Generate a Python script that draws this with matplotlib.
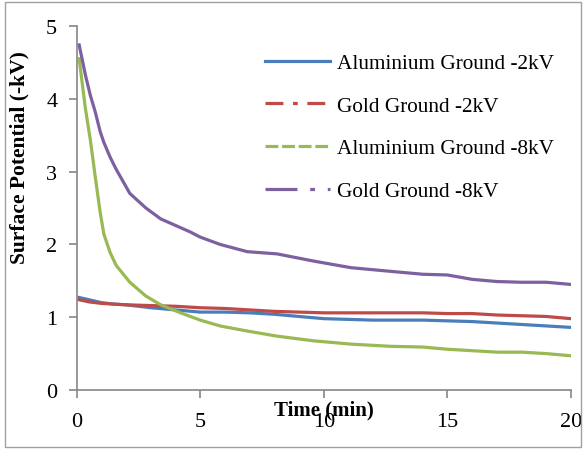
import numpy as np
import matplotlib.pyplot as plt
from matplotlib.lines import Line2D
from matplotlib.patches import Rectangle

plt.rcParams['font.family'] = ['Liberation Serif', 'DejaVu Serif']

# time axes (min) and measured surface potential (-kV)
t_2kv = [0.1, 0.5, 1, 1.5, 2, 2.5, 3, 4, 5, 6, 7, 8, 9, 10, 11, 12, 13, 14, 15, 16, 17, 18, 19, 20]
al_2kv = [1.27, 1.24, 1.20, 1.18, 1.17, 1.15, 1.13, 1.10, 1.07, 1.07, 1.06, 1.04, 1.01, 0.98,
          0.97, 0.96, 0.96, 0.96, 0.95, 0.94, 0.92, 0.90, 0.88, 0.86]
au_2kv = [1.24, 1.21, 1.19, 1.18, 1.17, 1.165, 1.16, 1.15, 1.13, 1.12, 1.10, 1.08, 1.07, 1.06,
          1.06, 1.06, 1.06, 1.06, 1.05, 1.05, 1.03, 1.02, 1.01, 0.98]

t_8kv = [0.1, 0.35, 0.55, 0.75, 0.95, 1.1, 1.35, 1.6, 2.15, 2.8, 3.4, 4.2, 4.6, 5.0, 5.8, 6.9,
         8.1, 9.6, 11.1, 12.7, 14, 15, 16, 17, 18, 19, 20]
al_8kv = [4.55, 3.87, 3.44, 2.93, 2.44, 2.14, 1.89, 1.71, 1.48, 1.29, 1.17, 1.06, 1.01, 0.96,
          0.88, 0.81, 0.74, 0.675, 0.63, 0.60, 0.59, 0.56, 0.54, 0.52, 0.52, 0.50, 0.47]
au_8kv = [4.74, 4.33, 4.05, 3.82, 3.55, 3.40, 3.20, 3.03, 2.70, 2.50, 2.35, 2.23, 2.17, 2.10,
          2.00, 1.90, 1.87, 1.77, 1.68, 1.63, 1.59, 1.58, 1.52, 1.49, 1.48, 1.48, 1.45]

labels = ['Aluminium Ground -2kV', 'Gold Ground -2kV', 'Aluminium Ground -8kV', 'Gold Ground -8kV']
colors = ['#4a7ebb', '#be4b48', '#98b954', '#7d60a0']
styles = ['-', (0, (5.6, 3, 1.5, 3)), (0, (4, 1.2)), (0, (10, 4, 1.5, 4, 1.5, 4))]

fig = plt.figure(figsize=(5.86, 4.52), dpi=100)
fig.patches.append(Rectangle((0.009, 0.009), 0.982, 0.984, transform=fig.transFigure,
                             fill=False, edgecolor='#a0a0a0', linewidth=1))
ax = fig.add_axes([76.7 / 586, 1 - 391 / 452, (571 - 76.7) / 586, (391 - 27) / 452])

series = [(t_2kv, al_2kv), (t_2kv, au_2kv), (t_8kv, al_8kv), (t_8kv, au_8kv)]
for (x, y), c in zip(series, colors):
    ax.plot(x, y, color=c, linewidth=2.3)

ax.set_xlim(0, 20)
ax.set_ylim(0, 5)
ax.set_xticks([0, 5, 10, 15, 20])
ax.set_yticks([0, 1, 2, 3, 4, 5])
for s in ['top', 'right']:
    ax.spines[s].set_visible(False)
for s in ['left', 'bottom']:
    ax.spines[s].set_color('#868686')
    ax.spines[s].set_linewidth(1.2)
ax.tick_params(colors='#868686', labelcolor='black', labelsize=16, length=6, width=1.2)
ax.tick_params(axis='x', pad=10)
ax.tick_params(axis='y', pad=8)

ax.set_xlabel('Time (min)', fontsize=15, fontweight='bold')
ax.xaxis.set_label_coords(0.5, -0.025)
ax.set_ylabel('Surface Potential (-kV)', fontsize=15.5, fontweight='bold')
ax.yaxis.set_label_coords(-0.095, 0.64)

handles = [Line2D([], [], color=c, linestyle=ls, linewidth=2.3) for c, ls in zip(colors, styles)]
ax.legend(handles, labels, loc='upper left', bbox_to_anchor=(0.381, 0.925), frameon=False,
          fontsize=15.3, handlelength=3.06, labelspacing=1.07, handletextpad=0.33,
          borderpad=0, borderaxespad=0)

fig.savefig('out.png', dpi=100)
